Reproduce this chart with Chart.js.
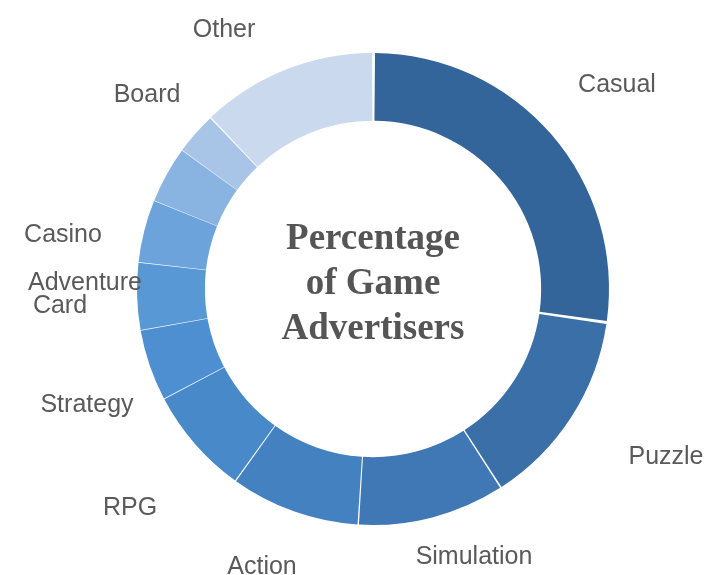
<!DOCTYPE html>
<html>
<head>
<meta charset="utf-8">
<script src="https://cdn.jsdelivr.net/npm/chart.js@4/dist/chart.umd.min.js"></script>
<style>
  html, body { margin: 0; padding: 0; background: #ffffff; }
  #wrap { width: 705px; height: 575px; position: relative; }
</style>
</head>
<body>
<div id="wrap"><canvas id="chart"></canvas></div>
<script>
// Share of game advertisers by genre (percent), clockwise from the top
const genres = ['Casual', 'Puzzle', 'Simulation', 'Action', 'RPG', 'Strategy', 'Card', 'Adventure', 'Casino', 'Board', 'Other'];
const shares = [27.3, 13.6, 10.1, 8.9, 7.4, 4.9, 4.6, 4.3, 3.9, 2.9, 12.1];
const centerTitle = ['Percentage', 'of Game', 'Advertisers'];

// Blue ramp, darkest for the largest genre
const sliceColors = ['#33659a', '#3a6fa8', '#3f78b5', '#4481c1', '#4889ca', '#4d8fd0', '#5898d5', '#6ca3da', '#89b4e1', '#a8c5e8', '#cad9ee'];

// Where each genre name sits, as an offset from the ring centre in px
const labelOffsets = [
  [244, -206], [293, 166], [101, 266], [-111, 276], [-243, 217], [-286, 114],
  [-313, 15], [-288, -8], [-310, -56], [-226, -196], [-149, -261]
];

const ringText = {
  id: 'ringText',
  afterDatasetsDraw(chart) {
    const ctx = chart.ctx;
    const arc = chart.getDatasetMeta(0).data[0];
    const cx = arc.x, cy = arc.y;
    ctx.save();
    // genre names round the ring
    ctx.font = '25px "Liberation Sans", Arial, sans-serif';
    ctx.fillStyle = '#5a5a5a';
    ctx.textAlign = 'center';
    ctx.textBaseline = 'alphabetic';
    genres.forEach((g, i) => {
      const [dx, dy] = labelOffsets[i];
      ctx.fillText(g, cx + dx, cy + dy + 9);
    });
    // title in the hole
    ctx.font = 'bold 37px "Liberation Serif", "Times New Roman", serif';
    ctx.fillStyle = '#555555';
    const lineGap = 45;
    const top = cy - 7 - lineGap;
    centerTitle.forEach((line, i) => {
      ctx.fillText(line, cx, top + i * lineGap + 12);
    });
    ctx.restore();
  }
};

new Chart(document.getElementById('chart'), {
  type: 'doughnut',
  data: {
    labels: genres,
    datasets: [{
      data: shares,
      backgroundColor: sliceColors,
      borderWidth: 0,
      hoverBorderWidth: 0,
      spacing: 4
    }]
  },
  options: {
    responsive: true,
    maintainAspectRatio: false,
    animation: false,
    cutout: '71%',
    layout: { padding: { left: 137, right: 96, top: 53, bottom: 50 } },
    plugins: {
      legend: { display: false },
      tooltip: { enabled: false }
    }
  },
  plugins: [ringText]
});
</script>
</body>
</html>
